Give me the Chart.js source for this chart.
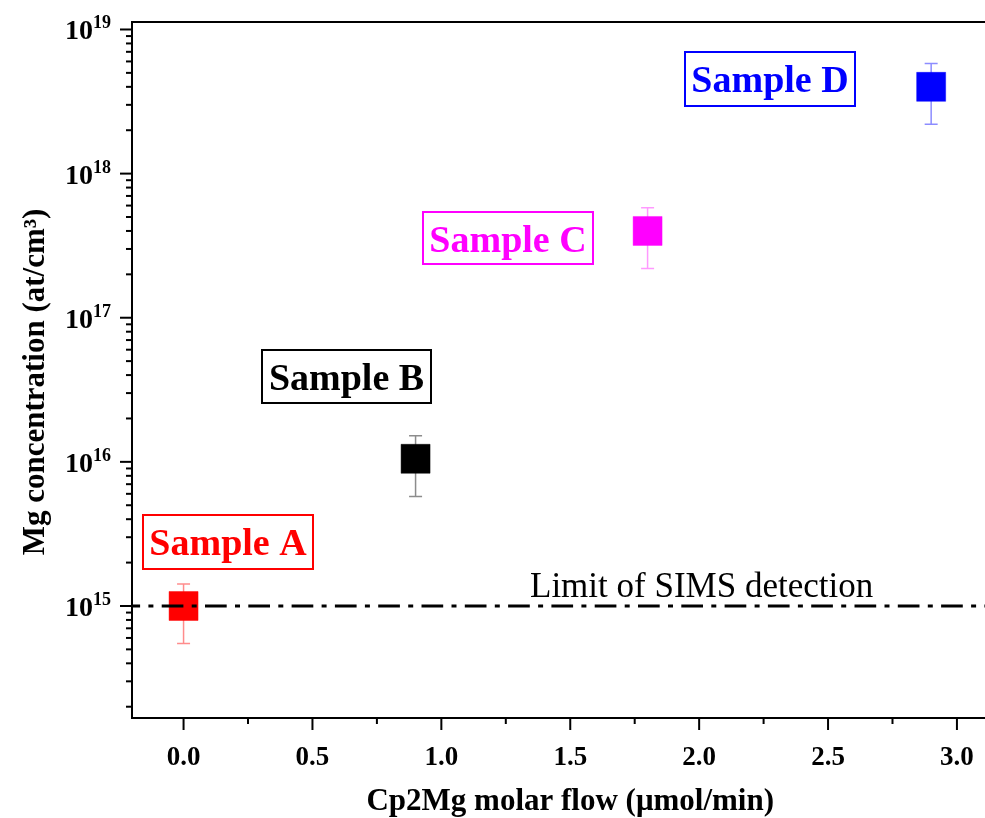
<!DOCTYPE html>
<html>
<head>
<meta charset="utf-8">
<script src="https://cdn.jsdelivr.net/npm/chart.js@4.4.1/dist/chart.umd.min.js"></script>
<style>
    html, body { margin: 0; padding: 0; background: #fff; overflow: hidden; }
    #wrap { width: 1030px; height: 818px; }
</style>
</head>
<body>
<div id="wrap"><canvas id="mgChart" width="1030" height="818"></canvas></div>
<script>
// Data
const sampleNames = ['Sample A', 'Sample B', 'Sample C', 'Sample D'];
const molarFlow = [0.0, 0.9, 1.8, 2.9];                 // µmol/min
const mgConc = [1.0e15, 1.05e16, 4.0e17, 4.0e18];       // at/cm3
const errHigh = [1.42e15, 1.52e16, 5.8e17, 5.8e18];
const errLow = [5.5e14, 5.75e15, 2.2e17, 2.2e18];
const sampleColors = ['#ff0000', '#000000', '#ff00ff', '#0000ff'];
const errColors = ['rgba(255,0,0,0.45)', 'rgba(0,0,0,0.45)', 'rgba(255,0,255,0.4)', 'rgba(0,0,255,0.45)'];
const simsLimit = 1e15;
const xTickLabels = ['0.0', '0.5', '1.0', '1.5', '2.0', '2.5', '3.0'];
const yTickExponents = ['15', '16', '17', '18', '19'];

// where the sample labels sit (pixel boxes)
const labelBoxes = [
    { left: 143, top: 515, w: 170, h: 54 },
    { left: 262, top: 350, w: 169, h: 53 },
    { left: 423, top: 212, w: 170, h: 52 },
    { left: 685, top: 52, w: 170, h: 54 }
];

const serif = '"Liberation Serif", "Times New Roman", Times, serif';

// Error bars, ticks, tick labels, titles and boxed labels
const figurePlugin = {
    id: 'figurePlugin',
    beforeDatasetsDraw(chart) {
        const ctx = chart.ctx;
        const x = chart.scales.x, y = chart.scales.y;
        ctx.save();
        ctx.lineWidth = 1.5;
        for (let i = 0; i < molarFlow.length; i++) {
            const px = x.getPixelForValue(molarFlow[i]);
            const top = y.getPixelForValue(errHigh[i]);
            const bot = y.getPixelForValue(errLow[i]);
            ctx.strokeStyle = errColors[i];
            ctx.beginPath();
            ctx.moveTo(px, top); ctx.lineTo(px, bot);
            ctx.moveTo(px - 6.5, top); ctx.lineTo(px + 6.5, top);
            ctx.moveTo(px - 6.5, bot); ctx.lineTo(px + 6.5, bot);
            ctx.stroke();
        }
        ctx.restore();
    },
    afterDraw(chart) {
        const ctx = chart.ctx;
        const area = chart.chartArea;
        const x = chart.scales.x, y = chart.scales.y;
        ctx.save();

        // frame
        ctx.strokeStyle = '#000';
        ctx.lineWidth = 2;
        ctx.strokeRect(area.left, area.top, area.right - area.left, area.bottom - area.top);

        // x ticks (outward)
        x.ticks.forEach(t => {
            const px = x.getPixelForValue(t.value);
            const len = t.major ? 12 : 6;
            ctx.beginPath();
            ctx.moveTo(px, area.bottom);
            ctx.lineTo(px, area.bottom + len);
            ctx.stroke();
            if (t.major) {
                ctx.fillStyle = '#000';
                ctx.font = 'bold 27px ' + serif;
                ctx.textAlign = 'center';
                ctx.textBaseline = 'alphabetic';
                ctx.fillText(t.txt, px, 765);
            }
        });

        // y ticks (outward) with 10^n labels
        y.ticks.forEach(t => {
            const py = y.getPixelForValue(t.value);
            const len = t.major ? 12 : 6;
            ctx.beginPath();
            ctx.moveTo(area.left, py);
            ctx.lineTo(area.left - len, py);
            ctx.stroke();
            if (t.major) {
                ctx.fillStyle = '#000';
                ctx.textBaseline = 'alphabetic';
                ctx.textAlign = 'right';
                ctx.font = 'bold 18px ' + serif;
                const supW = ctx.measureText(t.txt).width;
                ctx.fillText(t.txt, 111, py - 1);
                ctx.font = 'bold 28px ' + serif;
                ctx.fillText('10', 111 - supW, py + 10);
            }
        });

        // axis titles
        ctx.fillStyle = '#000';
        ctx.font = 'bold 31px ' + serif;
        ctx.textAlign = 'center';
        ctx.textBaseline = 'alphabetic';
        ctx.fillText('Cp2Mg molar flow (\u03bcmol/min)', (area.left + area.right) / 2, 810);
        ctx.save();
        ctx.translate(44, 382);
        ctx.rotate(-Math.PI / 2);
        ctx.fillText('Mg concentration (at/cm\u00b3)', 0, 0);
        ctx.restore();

        // SIMS limit text
        ctx.font = '35px ' + serif;
        ctx.textAlign = 'left';
        ctx.fillText('Limit of SIMS detection', 530, 597);

        // boxed sample labels
        ctx.font = 'bold 38px ' + serif;
        ctx.textAlign = 'center';
        labelBoxes.forEach((b, i) => {
            ctx.strokeStyle = sampleColors[i];
            ctx.fillStyle = sampleColors[i];
            ctx.lineWidth = 2;
            ctx.strokeRect(b.left, b.top, b.w, b.h);
            ctx.fillText(sampleNames[i], b.left + b.w / 2, b.top + 40);
        });

        ctx.restore();
    }
};

const ctx = document.getElementById('mgChart').getContext('2d');
const mgChart = new Chart(ctx, {
    type: 'scatter',
    data: {
        datasets: [
            {
                // SIMS detection limit, dash-dot
                type: 'line',
                data: [{ x: -0.2, y: simsLimit }, { x: 3.2, y: simsLimit }],
                borderColor: '#000',
                borderWidth: 3,
                borderDash: [21.7, 8.3, 5, 8.3],
                borderDashOffset: 13.6,
                pointRadius: 0,
                fill: false
            },
            {
                data: molarFlow.map((v, i) => ({ x: v, y: mgConc[i] })),
                pointStyle: 'rect',
                pointRadius: 20.5,
                backgroundColor: sampleColors,
                borderColor: errColors,
                borderWidth: 1
            }
        ]
    },
    options: {
        responsive: false,
        animation: false,
        events: [],
        layout: { padding: { top: 22, right: 13, left: 0, bottom: 0 } },
        plugins: {
            legend: { display: false },
            tooltip: { enabled: false }
        },
        scales: {
            x: {
                type: 'linear',
                min: -0.2,
                max: 3.2,
                grid: { display: false },
                border: { display: false },
                ticks: { display: false },
                afterBuildTicks: function(scale) {
                    const ticks = [];
                    xTickLabels.forEach((lab, i) => {
                        const v = parseFloat(lab);
                        ticks.push({ value: v, major: true, txt: lab });
                        if (i < xTickLabels.length - 1) ticks.push({ value: v + 0.25, major: false, txt: '' });
                    });
                    scale.ticks = ticks;
                },
                afterFit: function(scale) { scale.height = 100; }
            },
            y: {
                type: 'logarithmic',
                min: 1.67e14,
                max: 1.127e19,
                grid: { display: false },
                border: { display: false },
                ticks: { display: false },
                afterBuildTicks: function(scale) {
                    const ticks = [];
                    const first = parseInt(yTickExponents[0]) - 1;
                    const last = parseInt(yTickExponents[yTickExponents.length - 1]);
                    for (let e = first; e <= last; e++) {
                        for (let k = 1; k <= 9; k++) {
                            const v = k * Math.pow(10, e);
                            if (v < scale.min || v > scale.max) continue;
                            ticks.push({ value: v, major: k === 1, txt: k === 1 ? String(e) : '' });
                        }
                    }
                    scale.ticks = ticks;
                },
                afterFit: function(scale) { scale.width = 132; }
            }
        }
    },
    plugins: [figurePlugin]
});
</script>
</body>
</html>
